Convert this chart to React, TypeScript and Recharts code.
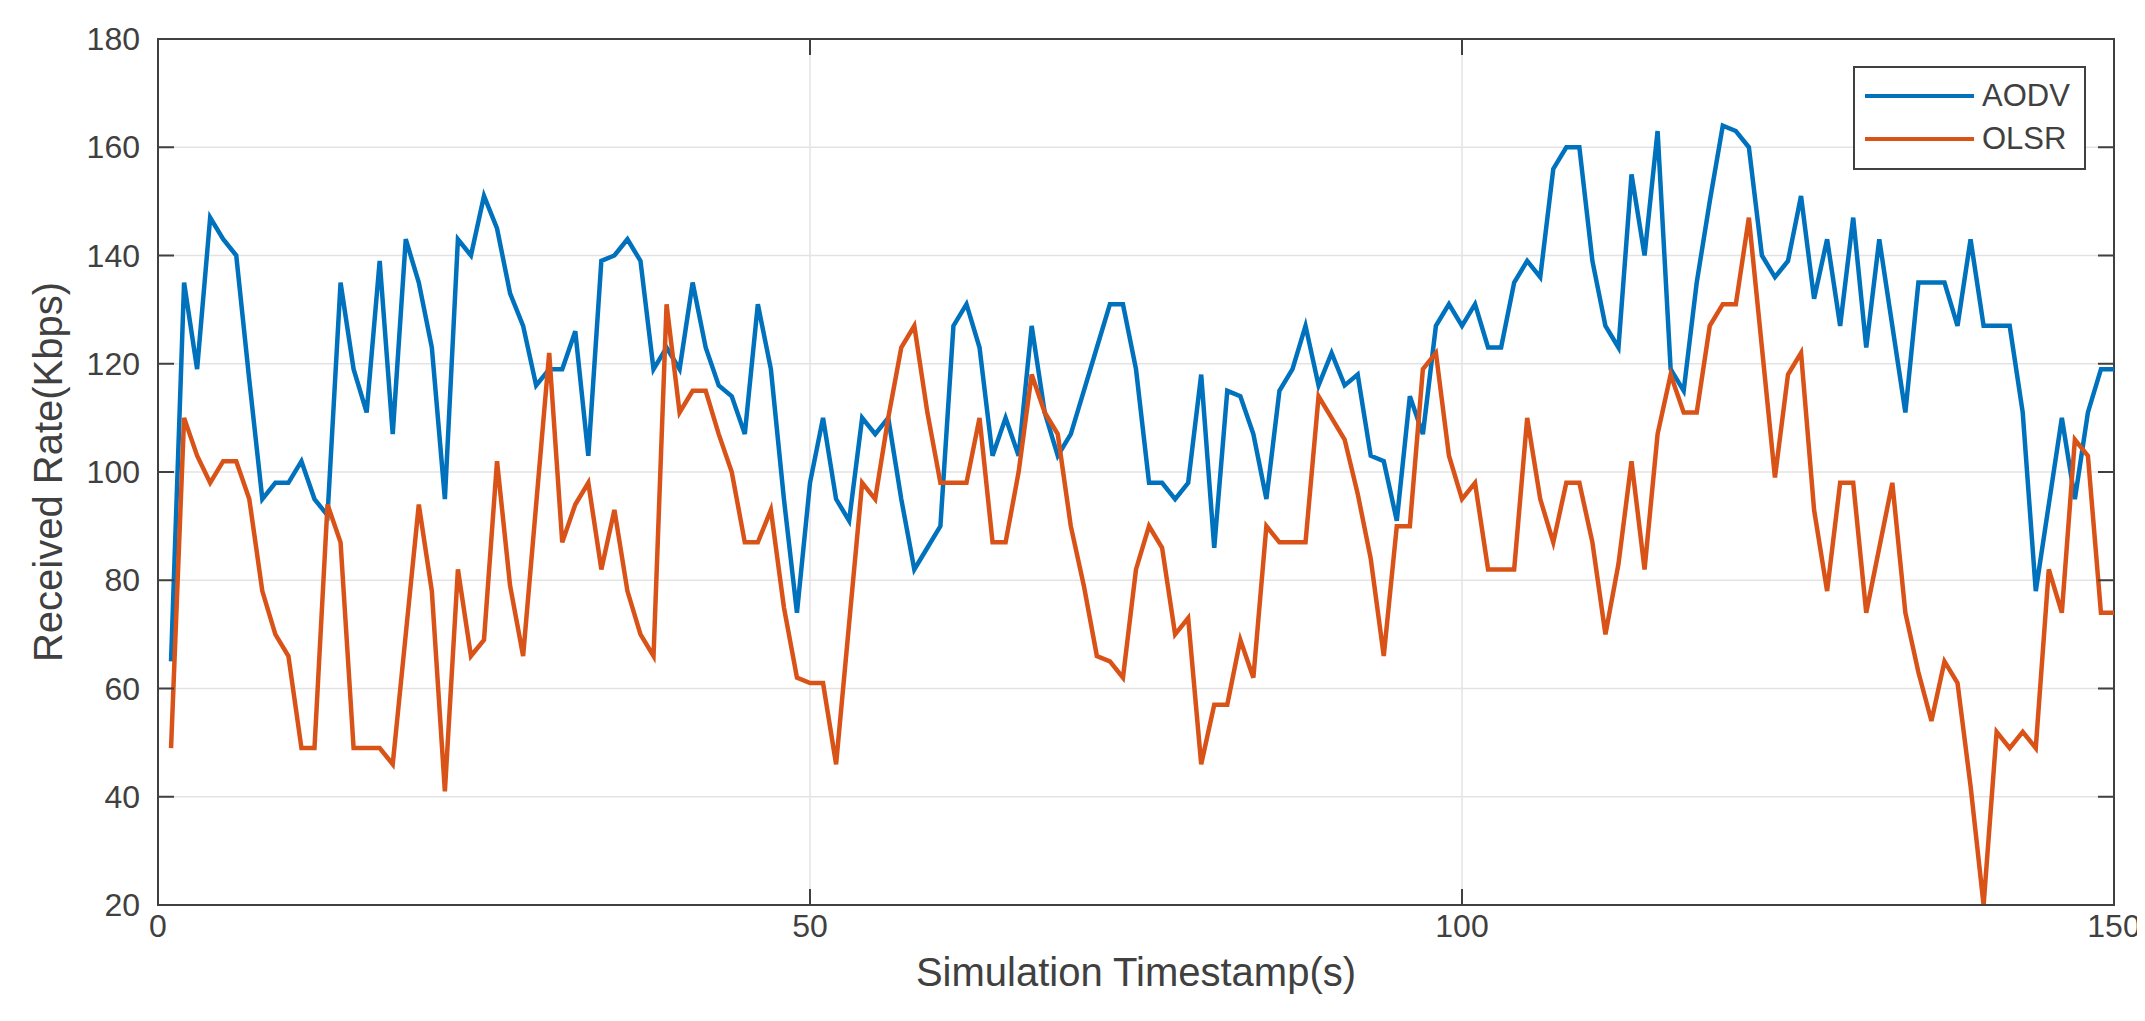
import React from 'react';
import {
  LineChart,
  Line,
  XAxis,
  YAxis,
  CartesianGrid,
  Legend,
  ReferenceArea,
} from 'recharts';

// Simulation timestamps (s)
const timestamps = Array.from({ length: 150 }, (_, i) => i + 1);

// Received rate (Kbps), one value per second
const aodv = [
  65, 135, 119, 147, 143, 140, 117, 95, 98, 98,
  102, 95, 92, 135, 119, 111, 139, 107, 143, 135,
  123, 95, 143, 140, 151, 145, 133, 127, 116, 119,
  119, 126, 103, 139, 140, 143, 139, 119, 123, 119,
  135, 123, 116, 114, 107, 131, 119, 95, 74, 98,
  110, 95, 91, 110, 107, 110, 95, 82, 86, 90,
  127, 131, 123, 103, 110, 103, 127, 111, 103, 107,
  115, 123, 131, 131, 119, 98, 98, 95, 98, 118,
  86, 115, 114, 107, 95, 115, 119, 127, 116, 122,
  116, 118, 103, 102, 91, 114, 107, 127, 131, 127,
  131, 123, 123, 135, 139, 136, 156, 160, 160, 139,
  127, 123, 155, 140, 163, 119, 115, 135, 150, 164,
  163, 160, 140, 136, 139, 151, 132, 143, 127, 147,
  123, 143, 127, 111, 135, 135, 135, 127, 143, 127,
  127, 127, 111, 78, 94, 110, 95, 111, 119, 119,
];

const olsr = [
  49, 110, 103, 98, 102, 102, 95, 78, 70, 66,
  49, 49, 94, 87, 49, 49, 49, 46, 70, 94,
  78, 41, 82, 66, 69, 102, 79, 66, 94, 122,
  87, 94, 98, 82, 93, 78, 70, 66, 131, 111,
  115, 115, 107, 100, 87, 87, 93, 75, 62, 61,
  61, 46, 72, 98, 95, 110, 123, 127, 111, 98,
  98, 98, 110, 87, 87, 100, 118, 111, 107, 90,
  79, 66, 65, 62, 82, 90, 86, 70, 73, 46,
  57, 57, 69, 62, 90, 87, 87, 87, 114, 110,
  106, 96, 84, 66, 90, 90, 119, 122, 103, 95,
  98, 82, 82, 82, 110, 95, 87, 98, 98, 87,
  70, 83, 102, 82, 107, 118, 111, 111, 127, 131,
  131, 147, 123, 99, 118, 122, 93, 78, 98, 98,
  74, 86, 98, 74, 63, 54, 65, 61, 42, 20,
  52, 49, 52, 49, 82, 74, 106, 103, 74, 74,
];

const xTicks = [0, 50, 100, 150];
const yTicks = [20, 40, 60, 80, 100, 120, 140, 160, 180];

const data = timestamps.map((t, i) => ({ t, aodv: aodv[i], olsr: olsr[i] }));

const COLORS = {
  aodv: '#0072BD',
  olsr: '#D95319',
  axis: '#404040',
  grid: '#e3e3e3',
  text: '#404040',
};

const FONT = '"Liberation Sans", Arial, Helvetica, sans-serif';

const CHART_W = 2137;
const CHART_H = 1013;
const MARGIN = { top: 31, right: 31, bottom: 0, left: 30 };
const Y_AXIS_W = 120;
const X_AXIS_H = 116;
const PLOT_RIGHT = CHART_W - MARGIN.right;
const PLOT_TOP = MARGIN.top;
const TICK_LEN = 16;
const Y_TICK_MARGIN = 18;
const X_TICK_MARGIN = 9;

// y tick: label on the left, inward tick marks on both sides
const YTick = (props: any) => {
  const { x, y, payload } = props;
  const axisX = x + Y_TICK_MARGIN;
  return (
    <g>
      <line x1={axisX} x2={axisX + TICK_LEN} y1={y} y2={y} stroke={COLORS.axis} strokeWidth={2} />
      <line x1={PLOT_RIGHT - TICK_LEN} x2={PLOT_RIGHT} y1={y} y2={y} stroke={COLORS.axis} strokeWidth={2} />
      <text x={x} y={y} dy="0.35em" textAnchor="end" fontSize={32} fill={COLORS.text} fontFamily={FONT}>
        {payload.value}
      </text>
    </g>
  );
};

// x tick: label below, inward tick marks at bottom and top
const XTick = (props: any) => {
  const { x, y, payload } = props;
  const axisY = y - X_TICK_MARGIN;
  return (
    <g>
      <line x1={x} x2={x} y1={axisY} y2={axisY - TICK_LEN} stroke={COLORS.axis} strokeWidth={2} />
      <line x1={x} x2={x} y1={PLOT_TOP} y2={PLOT_TOP + TICK_LEN} stroke={COLORS.axis} strokeWidth={2} />
      <text x={x} y={y} dy="0.71em" textAnchor="middle" fontSize={32} fill={COLORS.text} fontFamily={FONT}>
        {payload.value}
      </text>
    </g>
  );
};

const renderLegend = (props: any) => {
  const { payload } = props;
  return (
    <div
      style={{
        border: `2px solid ${COLORS.axis}`,
        background: '#fff',
        padding: '6px 14px 8px 10px',
        fontFamily: FONT,
        fontSize: 31,
        color: COLORS.text,
        lineHeight: '43px',
      }}
    >
      {payload.map((entry: any) => (
        <div key={entry.value} style={{ display: 'flex', alignItems: 'center' }}>
          <span
            style={{
              display: 'inline-block',
              width: 109,
              height: 4,
              background: entry.color,
              marginRight: 8,
            }}
          />
          <span>{entry.value}</span>
        </div>
      ))}
    </div>
  );
};

export default function App() {
  return (
    <div style={{ width: CHART_W, height: CHART_H, background: '#fff' }}>
      <LineChart width={CHART_W} height={CHART_H} data={data} margin={MARGIN}>
        <CartesianGrid stroke={COLORS.grid} strokeWidth={1.5} verticalValues={xTicks} horizontalValues={yTicks} />
        <XAxis
          dataKey="t"
          type="number"
          domain={[0, 150]}
          ticks={xTicks}
          height={X_AXIS_H}
          tickSize={0}
          tickLine={false}
          tickMargin={X_TICK_MARGIN}
          tick={<XTick />}
          stroke={COLORS.axis}
          strokeWidth={2}
          label={{
            value: 'Simulation Timestamp(s)',
            position: 'insideBottom',
            offset: 35,
            fontSize: 40,
            fill: COLORS.text,
            fontFamily: FONT,
          }}
        />
        <YAxis
          type="number"
          domain={[20, 180]}
          ticks={yTicks}
          width={Y_AXIS_W}
          tickSize={0}
          tickLine={false}
          tickMargin={Y_TICK_MARGIN}
          tick={<YTick />}
          stroke={COLORS.axis}
          strokeWidth={2}
          allowDataOverflow
          label={{
            value: 'Received Rate(Kbps)',
            angle: -90,
            position: 'insideLeft',
            offset: 10,
            fontSize: 40,
            fill: COLORS.text,
            fontFamily: FONT,
            style: { textAnchor: 'middle' },
          }}
        />
        {/* middle/center keeps the legend from reserving space in the plot offset */}
        <Legend
          layout="horizontal"
          verticalAlign="middle"
          align="center"
          content={renderLegend}
          wrapperStyle={{ position: 'absolute', top: 58, left: 1845, width: 'auto', height: 'auto' }}
        />
        <Line
          type="linear"
          dataKey="aodv"
          name="AODV"
          stroke={COLORS.aodv}
          strokeWidth={4.5}
          dot={false}
          isAnimationActive={false}
        />
        <Line
          type="linear"
          dataKey="olsr"
          name="OLSR"
          stroke={COLORS.olsr}
          strokeWidth={4.5}
          dot={false}
          isAnimationActive={false}
        />
        <ReferenceArea
          x1={0}
          x2={150}
          y1={20}
          y2={180}
          fill="none"
          fillOpacity={0}
          stroke={COLORS.axis}
          strokeWidth={2}
          ifOverflow="visible"
        />
      </LineChart>
    </div>
  );
}
